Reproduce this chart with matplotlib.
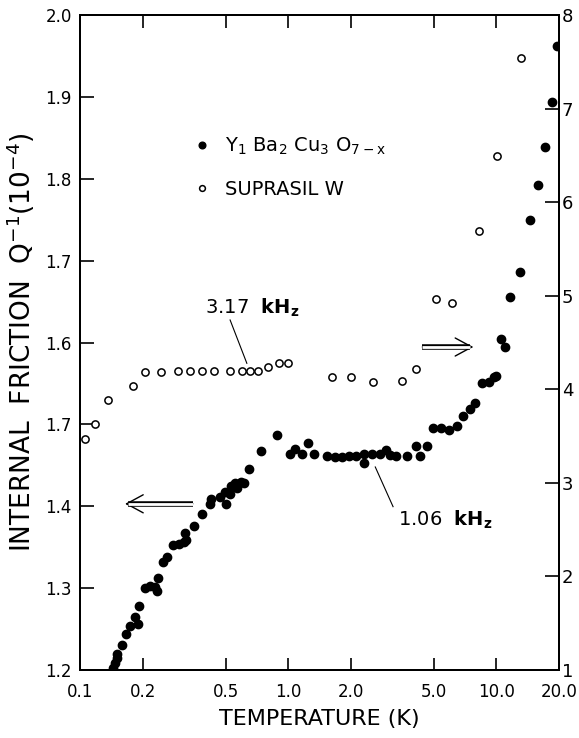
import numpy as np
import matplotlib.pyplot as plt
from matplotlib.ticker import NullLocator

# Y1 Ba2 Cu3 O7-x (1.06 kHz) -> left axis
t_ybco = [0.144, 0.147, 0.150, 0.151, 0.159, 0.166, 0.174, 0.183, 0.189, 0.192,
          0.205, 0.218, 0.228, 0.235, 0.237, 0.250, 0.262, 0.281, 0.298, 0.315,
          0.322, 0.321, 0.352, 0.384, 0.420, 0.424, 0.471, 0.500, 0.496, 0.526,
          0.532, 0.556, 0.567, 0.594, 0.614, 0.649, 0.742, 0.882, 1.022, 1.081,
          1.170, 1.248, 1.327, 1.540, 1.683, 1.812, 1.965, 2.123, 2.312, 2.302,
          2.533, 2.769, 2.959, 3.083, 3.287, 3.722, 4.125, 4.274, 4.623, 4.980,
          5.439, 5.931, 6.474, 6.939, 7.439, 7.862, 8.50, 9.183, 9.705, 10.0,
          10.57, 11.01, 11.68, 12.94, 14.46, 15.87, 17.07, 18.53, 19.58]
q_ybco = [1.203, 1.209, 1.215, 1.220, 1.231, 1.244, 1.254, 1.265, 1.256, 1.278,
          1.300, 1.303, 1.301, 1.297, 1.312, 1.332, 1.338, 1.353, 1.354, 1.356,
          1.359, 1.367, 1.376, 1.391, 1.403, 1.409, 1.411, 1.403, 1.418, 1.415,
          1.425, 1.428, 1.422, 1.430, 1.428, 1.445, 1.468, 1.487, 1.464, 1.470,
          1.464, 1.477, 1.464, 1.462, 1.460, 1.460, 1.462, 1.462, 1.464, 1.453,
          1.464, 1.464, 1.469, 1.463, 1.462, 1.461, 1.474, 1.461, 1.473, 1.495,
          1.495, 1.493, 1.498, 1.510, 1.519, 1.526, 1.551, 1.552, 1.558, 1.559,
          1.604, 1.594, 1.655, 1.686, 1.750, 1.792, 1.839, 1.894, 1.962]

# Suprasil W (3.17 kHz) -> right axis
t_supra = [0.106, 0.118, 0.136, 0.180, 0.205, 0.245, 0.294, 0.336, 0.386, 0.438,
           0.528, 0.597, 0.654, 0.718, 0.80, 0.90, 1.00, 1.62, 2.00, 2.55,
           3.54, 4.09, 5.11, 6.12, 8.27, 10.1, 13.2]
q_supra = [3.47, 3.63, 3.89, 4.03, 4.19, 4.19, 4.20, 4.20, 4.195, 4.20,
           4.195, 4.20, 4.20, 4.20, 4.24, 4.28, 4.28, 4.13, 4.13, 4.08,
           4.09, 4.22, 4.96, 4.92, 5.69, 6.49, 7.54]

x_ticks = [0.1, 0.2, 0.5, 1.0, 2.0, 5.0, 10.0, 20.0]
x_labels = ["0.1", "0.2", "0.5", "1.0", "2.0", "5.0", "10.0", "20.0"]
left_ticks = [1.2, 1.3, 1.4, 1.5, 1.6, 1.7, 1.8, 1.9, 2.0]
left_labels = ["1.2", "1.3", "1.4", "1.7", "1.6", "1.7", "1.8", "1.9", "2.0"]  # as printed
right_ticks = [1, 2, 3, 4, 5, 6, 7, 8]


def double_arrow(ax, tail, head, y):
    # hollow double-shaft arrow, shaft stops just short of the tip
    end = head * (1.035 if head < tail else 1 / 1.035)
    ax.plot([tail, end], [y, y], color="black", lw=4.0, solid_capstyle="butt", zorder=4)
    ax.plot([tail, end], [y, y], color="white", lw=2.0, solid_capstyle="butt", zorder=5)
    ax.annotate("", xy=(head, y), xytext=(tail, y), zorder=3,
                arrowprops=dict(arrowstyle="->,head_length=1.2,head_width=0.65",
                                lw=1.0, color="black", shrinkA=0, shrinkB=0))


fig = plt.figure(figsize=(5.79, 7.38), dpi=100)
ax = fig.add_axes([0.1382, 0.0921, 0.8273, 0.8876])
ax2 = ax.twinx()

ax.plot(t_ybco, q_ybco, "o", color="black", ms=6, mec="black",
        label=r"Y$_1$ Ba$_2$ Cu$_3$ O$_{\mathrm{7-x}}$", zorder=6)
ax2.plot(t_supra, q_supra, "o", mfc="white", mec="black", mew=1.1, ms=5.2,
         label="SUPRASIL W")

ax.set_xscale("log")
ax.set_xlim(0.1, 20.0)
ax.set_ylim(1.2, 2.0)
ax2.set_ylim(1, 8)
ax.xaxis.set_minor_locator(NullLocator())
ax.set_xticks(x_ticks)
ax.set_xticklabels(x_labels)
ax.set_yticks(left_ticks)
ax.set_yticklabels(left_labels)
ax2.set_yticks(right_ticks)
ax2.set_yticklabels([str(v) for v in right_ticks])

ax.tick_params(axis="x", direction="in", top=True, length=9, width=1.2,
               labelsize=12, pad=9)
ax.tick_params(axis="y", direction="in", length=10, width=1.2, labelsize=12, pad=6)
ax2.tick_params(axis="y", direction="in", length=10, width=1.2, labelsize=13, pad=2)
for a in (ax, ax2):
    for s in a.spines.values():
        s.set_linewidth(1.4)

ax.set_xlabel("TEMPERATURE (K)", fontsize=16, labelpad=6)
ax.set_ylabel(r"INTERNAL  FRICTION  Q$^{-1}$(10$^{-4}$)", fontsize=19, labelpad=6)

# legend
h1, l1 = ax.get_legend_handles_labels()
h2, l2 = ax2.get_legend_handles_labels()
leg = ax2.legend(h1 + h2, l1 + l2, loc="upper left", bbox_to_anchor=(0.194, 0.842),
                 frameon=False, fontsize=14, handletextpad=0.6, labelspacing=1.15,
                 markerscale=0.8, handlelength=1.2)

# annotations
ax.text(0.399, 1.642, "3.17  " + r"$\mathbf{kH_z}$", fontsize=14, ha="left", va="center")
ax.plot([0.526, 0.633], [1.6275, 1.5746], color="black", lw=0.8)
ax.text(3.38, 1.383, "1.06  " + r"$\mathbf{kH_z}$", fontsize=14, ha="left", va="center")
ax.plot([2.62, 3.19], [1.448, 1.3995], color="black", lw=0.8)

double_arrow(ax, 0.349, 0.1646, 1.403)
double_arrow(ax, 4.41, 7.75, 1.5945)

fig.savefig("out.png", dpi=100)
